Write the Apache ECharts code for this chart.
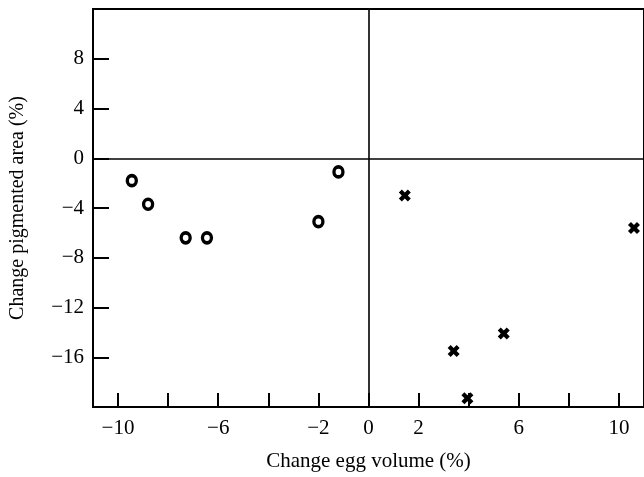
<!DOCTYPE html>
<html>
<head>
<meta charset="utf-8">
<script src="https://cdn.jsdelivr.net/npm/echarts@6/dist/echarts.min.js"></script>
<style>
  html, body { margin: 0; padding: 0; background: #fff; }
  #chart { width: 644px; height: 477px; }
</style>
</head>
<body>
<div id="chart"></div>
<script>
// egg volume change (%) vs pigmented area change (%)
var circlePoints = [
  [-9.45, -1.8], [-8.8, -3.7], [-7.3, -6.4], [-6.45, -6.4], [-2.0, -5.1], [-1.2, -1.1]
];
var crossPoints = [
  [1.45, -3.0], [3.4, -15.5], [3.95, -19.3], [5.4, -14.1], [10.6, -5.6]
];
var xTicks = [-10, -8, -6, -4, -2, 0, 2, 4, 6, 8, 10];
var xLabels = [-10, -6, -2, 0, 2, 6, 10];
var yTicks = [-16, -12, -8, -4, 0, 4, 8];

var font = 'Liberation Serif';
var crossPath = 'path://M0,2.5 L2.5,0 L5,2.5 L7.5,0 L10,2.5 L7.5,5 L10,7.5 L7.5,10 L5,7.5 L2.5,10 L0,7.5 L2.5,5 Z';

function fmt (v) {
  return v < 0 ? '\u2212' + Math.abs(v) : String(v);
}

var chart = echarts.init(document.getElementById('chart'));
chart.setOption({
  animation: false,
  grid: {
    left: 90,
    top: 9,
    width: 560,
    height: 406,
    show: true,
    borderColor: '#000',
    borderWidth: 2
  },
  xAxis: {
    type: 'value',
    min: -11,
    max: 11,
    name: 'Change egg volume (%)',
    nameLocation: 'middle',
    nameGap: 44,
    nameTextStyle: { fontFamily: font, fontSize: 21, color: '#000' },
    axisLine: { show: true, onZero: false, lineStyle: { color: '#000', width: 2 } },
    axisTick: { show: true, inside: true, length: 14, customValues: xTicks, lineStyle: { color: '#000', width: 2 } },
    axisLabel: { customValues: xLabels, formatter: fmt, margin: 11, fontFamily: font, fontSize: 21, color: '#000' },
    splitLine: { show: false }
  },
  yAxis: {
    type: 'value',
    min: -20,
    max: 12,
    name: 'Change pigmented area (%)',
    nameLocation: 'middle',
    nameGap: 65,
    nameTextStyle: { fontFamily: font, fontSize: 20, color: '#000' },
    axisLine: { show: true, onZero: false, lineStyle: { color: '#000', width: 2 } },
    axisTick: { show: true, inside: true, length: 16, customValues: yTicks, lineStyle: { color: '#000', width: 2 } },
    axisLabel: { customValues: yTicks, formatter: fmt, margin: 9, fontFamily: font, fontSize: 21, color: '#000' },
    splitLine: { show: false }
  },
  series: [
    {
      type: 'scatter',
      data: circlePoints,
      symbol: 'circle',
      symbolSize: [9, 10],
      itemStyle: { color: '#fff', borderColor: '#000', borderWidth: 3.5, opacity: 1 },
      markLine: {
        silent: true,
        symbol: 'none',
        label: { show: false },
        lineStyle: { color: '#000', width: 1.6, type: 'solid' },
        data: [{ xAxis: 0 }, { yAxis: 0 }]
      }
    },
    {
      type: 'scatter',
      data: crossPoints,
      symbol: crossPath,
      symbolSize: 12,
      itemStyle: { color: '#000', opacity: 1 }
    }
  ]
});
</script>
</body>
</html>
